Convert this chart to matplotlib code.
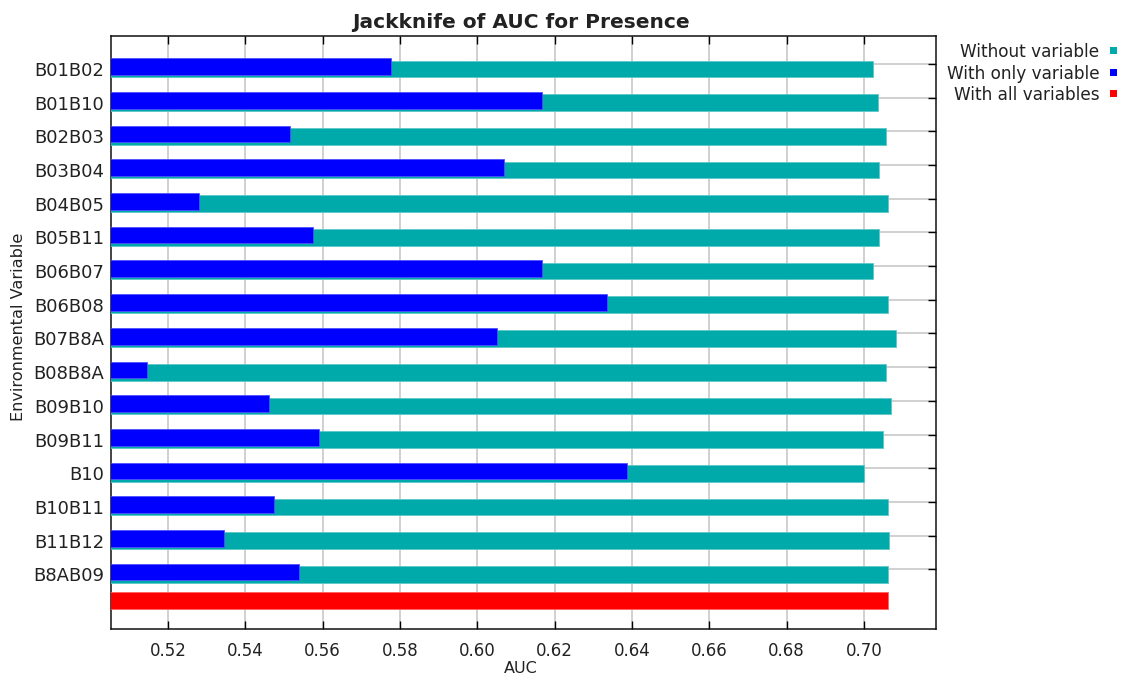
import numpy as np
import matplotlib
matplotlib.use("Agg")
import matplotlib.pyplot as plt
from matplotlib.patches import Rectangle
from matplotlib import font_manager

# ---------------- data ----------------
variables = ["B01B02", "B01B10", "B02B03", "B03B04", "B04B05", "B05B11", "B06B07",
             "B06B08", "B07B8A", "B08B8A", "B09B10", "B09B11", "B10", "B10B11",
             "B11B12", "B8AB09"]
without_variable = [0.7023, 0.7036, 0.7057, 0.7039, 0.7061, 0.7039, 0.7023, 0.7061,
                    0.7082, 0.7057, 0.7069, 0.7049, 0.7001, 0.7061, 0.7065, 0.7061]
with_only_variable = [0.5778, 0.6167, 0.5517, 0.6070, 0.5281, 0.5575, 0.6167, 0.6335,
                      0.6050, 0.5147, 0.5462, 0.5592, 0.6386, 0.5475, 0.5345, 0.5538]
with_all_variables = 0.7061
xticks = [0.52, 0.54, 0.56, 0.58, 0.60, 0.62, 0.64, 0.66, 0.68, 0.70]
legend_labels = ["Without variable", "With only variable", "With all variables"]

# ---------------- style ----------------
CYAN = "#00AAAA"
BLUE = "#0000FF"
RED = "#FF0000"
GRID = "#C4C4C4"
TXT = "#222222"

W, H = 1123, 677
fig = plt.figure(figsize=(W / 100, H / 100), dpi=100)
ax_left, ax_right, ax_top, ax_bottom = 111, 935.5, 36, 629.3
ax = fig.add_axes([ax_left / W, 1 - ax_bottom / H, (ax_right - ax_left) / W, (ax_bottom - ax_top) / H])

n = len(variables)
pos = np.arange(n)
bar_h = 0.495

ax.barh(pos + 0.148, without_variable, height=bar_h, color=CYAN,
        edgecolor="#5CC8C8", linewidth=0.6, zorder=2)
ax.barh(pos + 0.08, with_only_variable, height=bar_h, color=BLUE,
        edgecolor="#5050FF", linewidth=0.6, zorder=3)
ax.barh([n - 0.065], [with_all_variables], height=bar_h, color=RED,
        edgecolor="#FF6060", linewidth=0.6, zorder=3)

ax.set_xlim(0.5053, 0.7185)
ax.set_ylim(n + 0.78, -0.83)

ax.set_xticks(xticks)
ax.set_xticklabels([f"{v:.2f}" for v in xticks])
ax.tick_params(axis="x", which="major", direction="in", length=6, width=1,
               top=True, bottom=True, labelsize=12, labelcolor=TXT, pad=9)

ax.set_yticks(pos + 0.148)
ax.set_yticklabels(variables)
ax.tick_params(axis="y", which="major", left=False, right=False, length=0,
               labelsize=13, labelcolor=TXT, pad=5)
ax.set_yticks(pos, minor=True)
ax.tick_params(axis="y", which="minor", left=False, right=True, direction="in",
               length=6, width=1)

ax.grid(axis="x", which="major", color=GRID, linewidth=1.1, zorder=0)
ax.grid(axis="y", which="minor", color=GRID, linewidth=1.1, zorder=0)
ax.set_axisbelow(True)

for s in ax.spines.values():
    s.set_linewidth(1.1)
    s.set_color("#111111")
ax.spines["left"].set_zorder(1.5)

# axis labels
ax.set_xlabel("AUC", fontsize=11.5, color=TXT)
ax.xaxis.set_label_coords((520.5 - ax_left) / (ax_right - ax_left), -(676 - ax_bottom) / (ax_bottom - ax_top))
ax.xaxis.label.set_va("bottom")

names = {f.name for f in font_manager.fontManager.ttflist}
if "Liberation Sans Narrow" in names:
    yl_kw = dict(family="Liberation Sans Narrow", fontsize=13)
else:
    yl_kw = dict(fontsize=11.6)
ax.set_ylabel("Environmental Variable", color=TXT, **yl_kw)
ax.yaxis.set_label_coords(-(ax_left - 18.5) / (ax_right - ax_left), (ax_bottom - 326.5) / (ax_bottom - ax_top))
ax.yaxis.label.set_va("center")

# title
fig.text(520.5 / W, 1 - 28 / H, "Jackknife of AUC for Presence", ha="center", va="baseline",
         fontsize=14.5, fontweight="bold", color=TXT)

# legend (right side, text then coloured square)
baselines = [57.3, 78.6, 100.0]
for lab, col, b in zip(legend_labels, [CYAN, BLUE, RED], baselines):
    fig.text(1099.5 / W, 1 - b / H, lab, ha="right", va="baseline", fontsize=12.2, color=TXT)
    fig.patches.append(Rectangle((1110 / W, 1 - (b - 3) / H), 7 / W, 7 / H,
                                 transform=fig.transFigure, facecolor=col, edgecolor="none"))

fig.savefig("out.png", dpi=100)
